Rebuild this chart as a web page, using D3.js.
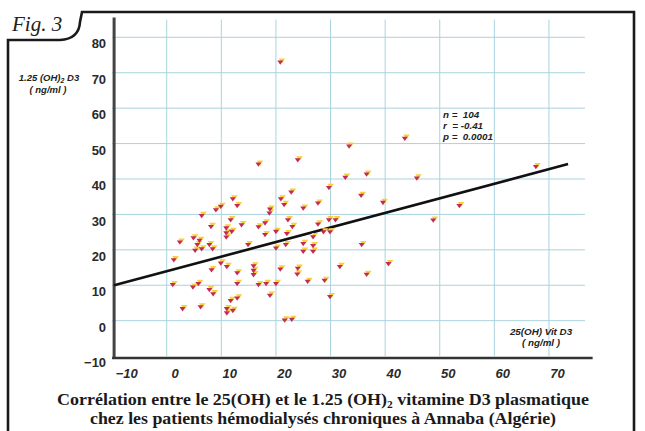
<!DOCTYPE html>
<html><head><meta charset="utf-8">
<script src="https://cdn.jsdelivr.net/npm/d3@7"></script>
<style>body{margin:0;background:#fff}svg{display:block}</style>
</head><body>
<svg id="c" width="645" height="431"></svg>
<script>
// 25(OH) vitamin D3 (ng/ml) — x values
const vitD25 = [20.8,33.4,43.6,16.8,24.0,32.7,36.6,45.8,67.6,29.7,
  12.1,12.9,9.0,9.9,6.4,11.7,8.1,10.9,13.7,16.8,
  18.0,18.9,18.8,20.9,21.5,22.8,35.6,39.6,27.7,25.0,
  22.2,29.7,30.9,27.7,23.0,2.4,4.9,6.0,5.6,5.2,
  6.4,7.8,8.4,10.9,10.9,11.9,14.9,18.0,20.0,20.0,
  1.3,8.2,9.9,11.0,12.9,15.9,15.9,15.9,20.8,1.1,
  4.8,5.8,7.8,8.5,12.9,16.8,18.2,20.0,18.9,11.7,
  12.9,2.9,6.2,11.0,12.1,11.0,21.6,22.9,21.8,22.0,
  26.8,25.0,26.8,25.0,26.8,28.7,29.9,35.7,31.7,40.6,
  36.6,24.0,23.9,25.8,28.9,29.9,48.8,53.6];
// 1.25 (OH)2 D3 (ng/ml) — y values
const vitD125 = [72.9,49.2,51.4,44.1,45.3,40.4,41.3,40.2,43.4,37.5,
  34.3,32.4,31.2,32.2,29.6,28.4,26.5,26.1,27.0,26.4,
  27.5,31.4,30.3,34.3,32.7,36.2,35.3,33.3,33.1,31.7,
  28.4,28.4,28.4,27.2,26.5,22.1,23.3,22.6,21.4,19.8,
  20.2,21.4,20.2,24.7,23.5,25.1,21.4,24.2,25.1,20.4,
  17.1,14.3,16.2,15.2,13.4,15.4,14.1,12.9,14.5,10.1,
  9.4,10.4,8.7,7.5,10.4,10.1,10.4,10.4,7.1,5.6,
  6.3,3.3,3.8,3.3,2.8,2.1,0.1,0.3,21.4,24.5,
  23.6,21.7,21.1,19.5,19.5,25.0,25.0,21.4,15.2,16.0,
  13.0,14.7,13.1,11.0,11.3,6.7,28.3,32.4];

const xTicks = [-10,0,10,20,30,40,50,60,70];
const yTicks = [-10,0,10,20,30,40,50,60,70,80];
const xGrid = [0,10,20,30,40,50,60,70];
const yGrid = [0,10,20,30,40,50,60,70,80];
const regX = [-10, 73.5];
const regY = [10, 44.2];
const statLines = ["n =  104", "r  = -0.41", "p =  0.0001"];
const titleLines = ["Corrélation entre le 25(OH) et le 1.25 (OH)", "chez les patients hémodialysés chroniques à Annaba (Algérie)"];

const svg = d3.select("#c");
const x = d3.scaleLinear().domain([-10, 76.6]).range([112.1, 585]);
const y = d3.scaleLinear().domain([-10, 85]).range([356.1, 19.6]);

// frame
svg.append("path")
  .attr("d","M8,440 L8,40 L60,40 Q79,39 80,22 L82,12 L634,12 L634,440")
  .attr("fill","none").attr("stroke","#1a1a1a").attr("stroke-width",2.6);
svg.append("text").attr("x",12).attr("y",31)
  .attr("font-family","Liberation Serif").attr("font-style","italic")
  .attr("font-size",21).attr("fill","#222").text("Fig. 3");

// grid
const grid = svg.append("g").attr("stroke","#a9d3df").attr("stroke-width",1);
grid.selectAll("line.v").data(xGrid).join("line")
  .attr("x1",d=>x(d)).attr("x2",d=>x(d)).attr("y1",y(85)).attr("y2",y(-10));
grid.selectAll("line.h").data(yGrid).join("line")
  .attr("x1",x(-10)).attr("x2",x(76.6)).attr("y1",d=>y(d)).attr("y2",d=>y(d));

// axes lines
svg.append("line").attr("x1",x(-10)+2).attr("x2",x(-10)+2).attr("y1",y(85)-2).attr("y2",y(-10)+3)
  .attr("stroke","#444").attr("stroke-width",3);
svg.append("line").attr("x1",x(-10)).attr("x2",x(78)).attr("y1",y(-10)+2).attr("y2",y(-10)+2)
  .attr("stroke","#333").attr("stroke-width",2.5);

// y tick labels
const ya = svg.append("g").attr("transform",`translate(${x(-10)-6},0)`)
  .call(d3.axisLeft(y).tickValues(yTicks).tickSize(0).tickPadding(0));
ya.select(".domain").remove();
ya.selectAll("text").attr("dy","0.32em").attr("transform","translate(0,6.5)")
  .attr("font-family","Liberation Sans").attr("font-weight","bold").attr("font-size",13).attr("fill","#2a2a2a");

// x tick labels
const xa = svg.append("g").attr("transform",`translate(8,${y(-10)+18})`)
  .call(d3.axisBottom(x).tickValues(xTicks).tickSize(0).tickPadding(0));
xa.select(".domain").remove();
xa.selectAll("text").attr("dy","0.32em")
  .attr("font-family","Liberation Sans").attr("font-weight","bold").attr("font-style","italic")
  .attr("font-size",13).attr("fill","#2a2a2a");
xa.selectAll(".tick").filter(d=>d===-10).select("text").attr("x",6);

// axis titles
const yt = svg.append("text").attr("x",49).attr("y",81).attr("text-anchor","middle")
  .attr("font-family","Liberation Sans").attr("font-weight","bold").attr("font-style","italic")
  .attr("font-size",9.5).attr("fill","#222");
yt.append("tspan").text("1.25 (OH)");
yt.append("tspan").attr("font-size",7).attr("dy",2).text("2");
yt.append("tspan").attr("dy",-2).text(" D3");
svg.append("text").attr("x",48).attr("y",93).attr("text-anchor","middle")
  .attr("font-family","Liberation Sans").attr("font-weight","bold").attr("font-style","italic")
  .attr("font-size",9.5).attr("fill","#222").text("( ng/ml )");
svg.append("text").attr("x",541).attr("y",335).attr("text-anchor","middle")
  .attr("font-family","Liberation Sans").attr("font-weight","bold").attr("font-style","italic")
  .attr("font-size",9.8).attr("fill","#222").text("25(OH) Vit D3");
svg.append("text").attr("x",541).attr("y",346).attr("text-anchor","middle")
  .attr("font-family","Liberation Sans").attr("font-weight","bold").attr("font-style","italic")
  .attr("font-size",9.8).attr("fill","#222").text("( ng/ml )");

// stats
svg.append("g").selectAll("text").data(statLines).join("text")
  .attr("x",443).attr("y",(d,i)=>118+i*11.2)
  .attr("font-family","Liberation Sans").attr("font-weight","bold").attr("font-style","italic")
  .attr("font-size",9.8).attr("fill","#222").style("white-space","pre").text(d=>d);

// regression line
svg.append("line").attr("x1",x(regX[0])+2).attr("y1",y(regY[0])).attr("x2",x(regX[1])).attr("y2",y(regY[1]))
  .attr("stroke","#111").attr("stroke-width",2.6).attr("stroke-linecap","butt");

// points
const pts = d3.range(vitD25.length).map(i=>[vitD25[i],vitD125[i]]);
const tri = "M-3,-1.9 L3,-1.9 L0,2.4 Z";
const g = svg.append("g");
g.selectAll("path.s").data(pts).join("path").attr("class","s")
  .attr("d",tri).attr("fill","#f6d13a")
  .attr("transform",d=>`translate(${x(d[0])+1.7},${y(d[1])-1.9}) scale(1.1)`);
g.selectAll("path.r").data(pts).join("path").attr("class","r")
  .attr("d",tri).attr("fill","#c42a55")
  .attr("transform",d=>`translate(${x(d[0])},${y(d[1])})`);

// title
const t1 = svg.append("text").attr("x",323).attr("y",405).attr("text-anchor","middle")
  .attr("font-family","Liberation Serif").attr("font-weight","bold").attr("font-size",16.5).attr("fill","#1a1a1a")
  .attr("textLength",532).attr("lengthAdjust","spacingAndGlyphs");
t1.append("tspan").text(titleLines[0]);
t1.append("tspan").attr("font-size",10.5).attr("dy",3).text("2");
t1.append("tspan").attr("dy",-3).text(" vitamine D3 plasmatique");
svg.append("text").attr("x",323).attr("y",424).attr("text-anchor","middle")
  .attr("font-family","Liberation Serif").attr("font-weight","bold").attr("font-size",16.5).attr("fill","#1a1a1a")
  .attr("textLength",466).attr("lengthAdjust","spacingAndGlyphs")
  .text(titleLines[1]);
</script>
</body></html>
